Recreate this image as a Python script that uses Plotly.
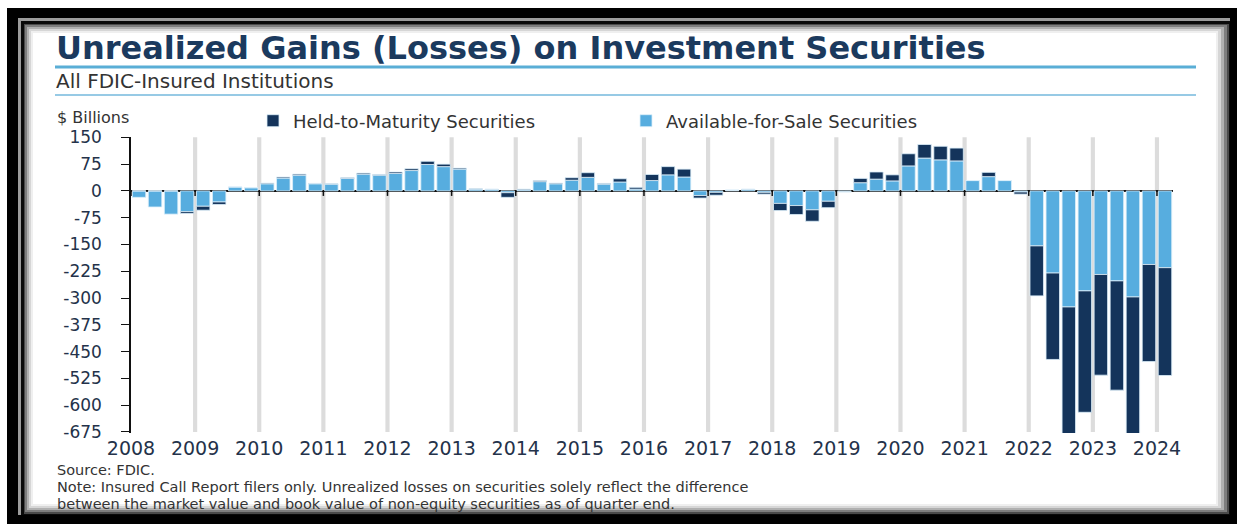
import numpy as np
import plotly.graph_objects as go

# Quarterly unrealized gains (losses), $ billions, 2008 Q1 - 2024 Q1
quarters = [f"{y} Q{q}" for y in range(2008, 2025) for q in range(1, 5)][:65]

afs = [-18, -45, -65, -58, -43, -31, 11, 9,
       20, 36, 44, 20, 19, 35, 47, 44,
       49, 57, 74, 68, 61, 5, 4, -5,
       3, 26, 20, 30, 38, 19, 25, 5,
       29, 45, 39, -13, -4, 2, 4, -4,
       -35, -41, -53, -29, -2, 23, 33, 28,
       70, 92, 87, 84, 29, 40, 29, -3,
       -154, -230, -325, -280, -234, -252, -297, -206,
       -215]
htm = [0, 0, 0, -5, -11, -7, 0, 0,
       2, 3, 3, 1, 1, 2, 3, 2,
       4, 5, 9, 7, 3, 1, 1, -13,
       2, 3, 2, 7, 13, 2, 9, 5,
       17, 23, 22, -7, -8, 0, 1, -5,
       -20, -25, -32, -18, -1, 12, 20, 17,
       34, 38, 38, 36, 0, 12, 0, -6,
       -140, -242, -365, -340, -282, -306, -387, -272,
       -302]

years = [str(y) for y in range(2008, 2025)]
y_ticks = [150, 75, 0, -75, -150, -225, -300, -375, -450, -525, -600, -675]
y_ticktext = [str(v) for v in y_ticks]

DARK = "#14345b"
LIGHT = "#57addf"
FONT = "DejaVu Sans"
TEXT = "#24324a"
NOTE = "#333333"

W, H = 1239, 525
L, R, T, B = 131, 66, 137, 92
PW, PH = W - L - R, H - T - B
Y_RANGE = [-678, 151]

x = np.arange(len(quarters))


def px_x(p):
    return (p - L) / PW


def px_y(p):
    return 1 - (p - T) / PH


fig = go.Figure()
fig.add_bar(x=x, y=afs, name="Available-for-Sale Securities", legendrank=2,
            marker=dict(color=LIGHT, line=dict(color="#dcefFa", width=0.8)),
            customdata=quarters, hovertemplate="%{customdata}: %{y}<extra>AFS</extra>")
fig.add_bar(x=x, y=htm, name="Held-to-Maturity Securities", legendrank=1,
            marker=dict(color=DARK, line=dict(color="#dcefFa", width=0.8)),
            customdata=quarters, hovertemplate="%{customdata}: %{y}<extra>HTM</extra>")

shapes = []


def rect(x0, y0, x1, y1, color):
    shapes.append(dict(type="rect", xref="paper", yref="paper", layer="below",
                       x0=px_x(x0), x1=px_x(x1), y0=px_y(y1), y1=px_y(y0),
                       fillcolor=color, line=dict(width=0)))


# outer black frame and inset card with a soft edge shadow
rect(7, 8, 1237, 524, "#000000")
rect(18, 18, 1230, 515, "#9c9c9c")
rect(21, 21, 1230, 515, "#0a0a0a")
rect(24, 24, 1229, 514, "#4a4a4a")
rect(25, 25, 1227, 512, "#7e7e7e")
rect(27, 27, 1224, 510, "#b0b0b0")
rect(29, 29, 1221, 508, "#d6d6d6")
rect(31, 31, 1218, 506, "#efefef")
rect(33, 33, 1216, 504, "#ffffff")

# rules under title and subtitle
shapes.append(dict(type="line", xref="paper", yref="paper", layer="below",
                   x0=px_x(55), x1=px_x(1196), y0=px_y(67), y1=px_y(67),
                   line=dict(color="#5aaed6", width=3)))
shapes.append(dict(type="line", xref="paper", yref="paper", layer="below",
                   x0=px_x(55), x1=px_x(1196), y0=px_y(95), y1=px_y(95),
                   line=dict(color="#74b9dd", width=1.5)))

# year separators and tick marks on the zero line
boundaries = [4 * i - 0.5 for i in range(len(years))]
for b in boundaries[1:]:
    shapes.append(dict(type="rect", xref="x", yref="y", layer="below",
                       x0=b - 0.13, x1=b + 0.13, y0=-675, y1=150,
                       fillcolor="#dcdcdc", line=dict(width=0)))
for b in boundaries:
    shapes.append(dict(type="line", xref="x", yref="y", layer="above",
                       x0=b, x1=b, y0=0, y1=-14,
                       line=dict(color="#111111", width=1.5)))

annotations = []


def text(s, xp, yp, size, color=TEXT, bold=False):
    annotations.append(dict(text=f"<b>{s}</b>" if bold else s, xref="paper", yref="paper",
                            x=px_x(xp), y=px_y(yp), xanchor="left", yanchor="middle",
                            showarrow=False, borderpad=0,
                            font=dict(family=FONT, size=size, color=color)))


text("Unrealized Gains (Losses) on Investment Securities", 55, 48, 32, "#1b3a5e", bold=True)
text("All FDIC-Insured Institutions", 55, 81, 20, NOTE)
text("$ Billions", 56, 117, 16, NOTE)
text("Source: FDIC.", 56, 470, 14.5, NOTE)
text("Note: Insured Call Report filers only. Unrealized losses on securities solely reflect the difference",
     56, 487, 14.5, NOTE)
text("between the market value and book value of non-equity securities as of quarter end.",
     56, 504, 14.5, NOTE)

fig.update_layout(
    width=W, height=H,
    margin=dict(l=L, r=R, t=T, b=B),
    paper_bgcolor="white",
    plot_bgcolor="rgba(0,0,0,0)",
    barmode="relative",
    bargap=0.16,
    shapes=shapes,
    annotations=annotations,
    font=dict(family=FONT, color=TEXT),
    showlegend=True,
    legend=dict(orientation="h", x=px_x(253), y=px_y(121), xanchor="left", yanchor="middle",
                entrywidth=328, entrywidthmode="pixels", bgcolor="rgba(0,0,0,0)",
                font=dict(family=FONT, size=18, color=NOTE)),
    xaxis=dict(range=[-0.5, len(quarters) - 0.5], showgrid=False, zeroline=False,
               showline=False, ticks="", tickvals=boundaries, ticktext=years,
               tickfont=dict(family=FONT, size=19, color=TEXT), ticklabelstandoff=2),
    yaxis=dict(range=Y_RANGE, showgrid=False, zeroline=True, zerolinecolor="#111111",
               zerolinewidth=1.8, showline=True, linecolor="#111111", linewidth=1.5,
               ticks="outside", ticklen=8, tickcolor="#111111", tickwidth=1.2,
               tickvals=y_ticks, ticktext=y_ticktext, ticklabelstandoff=16,
               tickfont=dict(family=FONT, size=17, color=TEXT)),
)

fig.write_html("out.html")
